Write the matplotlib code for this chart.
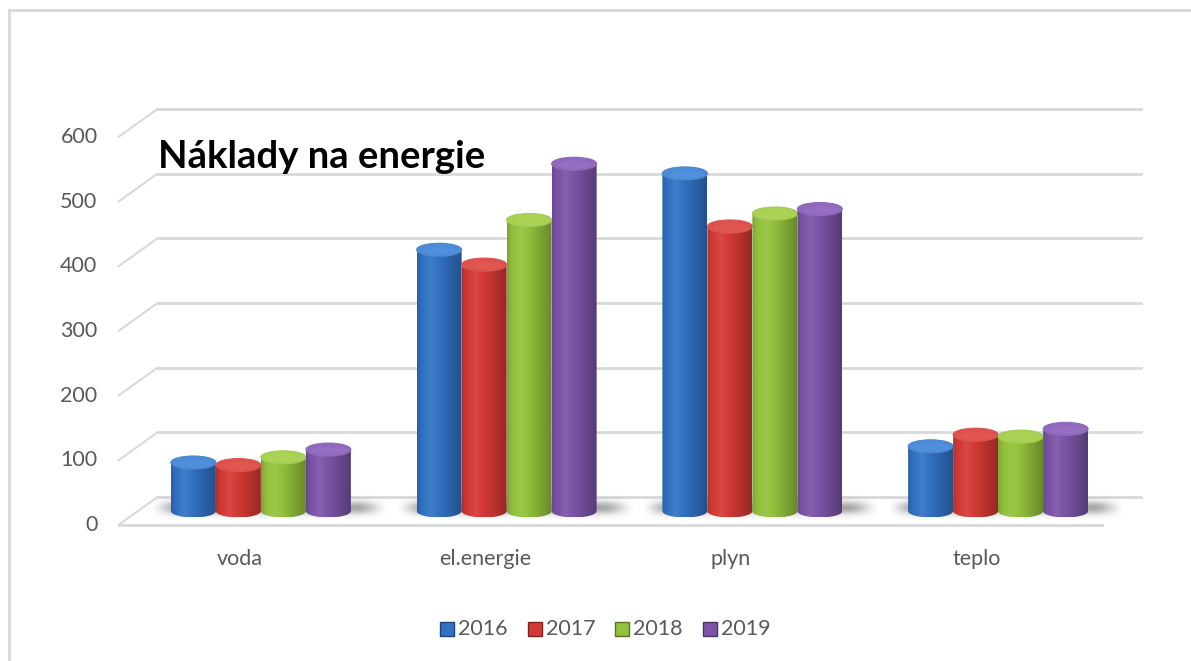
import numpy as np
import matplotlib
matplotlib.use("Agg")
import matplotlib.pyplot as plt
from matplotlib.patches import Polygon, Ellipse, Rectangle
from matplotlib.lines import Line2D
from matplotlib.transforms import ScaledTranslation
from matplotlib.colors import to_rgb

# ---------------- data ----------------
categories = ["voda", "el.energie", "plyn", "teplo"]
years = ["2016", "2017", "2018", "2019"]
v2016 = [75, 404, 522, 100]
v2017 = [71, 381, 440, 118]
v2018 = [83, 450, 460, 115]
v2019 = [95, 537, 467, 127]
series = [v2016, v2017, v2018, v2019]
yticks = [0, 100, 200, 300, 400, 500, 600]
title = "Náklady na energie"
colors = ["#3272C4", "#D43A35", "#93C23C", "#7B54A8"]
top_colors = ["#4A8CDA", "#E0504A", "#A8D250", "#9168BF"]

W, H, DPI = 1191, 661, 100
fig = plt.figure(figsize=(W / DPI, H / DPI), dpi=DPI)
fig.patch.set_facecolor("white")
plt.rcParams["font.family"] = ["Lato", "DejaVu Sans"]

x0_px, x1_px = 138, 1121
ybase_px, ppu = 511, 0.6467
ylo, yhi = -40, 640
ax = fig.add_axes([x0_px / W, (H - ybase_px + ylo * ppu) / H,
                   (x1_px - x0_px) / W, (yhi - ylo) * ppu / H])
ax.set_xlim(-0.5, 3.5)
ax.set_ylim(ylo, yhi)
ax.axis("off")

px = 1.0 / DPI
back = ax.transData + ScaledTranslation(19.5 * px, 14 * px, fig.dpi_scale_trans)
front = ax.transData + ScaledTranslation(-19.5 * px, -14 * px, fig.dpi_scale_trans)

grid_c = "#D9D9D9"
txt_c = "#595959"
for v in yticks:
    ax.plot([-0.5, 3.5], [v, v], color=grid_c, lw=2, transform=back, clip_on=False, zorder=1)
    ax.annotate("", xy=(-0.5, v), xycoords=back, xytext=(-0.5, v), textcoords=front,
                arrowprops=dict(arrowstyle="-", color=grid_c, lw=1.5, shrinkA=0, shrinkB=0),
                zorder=1)
    ax.text(-0.5, v, str(v), transform=front + ScaledTranslation(-21 * px, 0, fig.dpi_scale_trans),
            ha="right", va="center", fontsize=15.5, color=txt_c)
ax.plot([-0.5, 3.5], [0, 0], color=grid_c, lw=2, transform=front, clip_on=False, zorder=1)

for i, c in enumerate(categories):
    ax.text(i, 0, c, transform=front + ScaledTranslation(-2 * px, -34 * px, fig.dpi_scale_trans),
            ha="center", va="center", fontsize=15.5, color=txt_c)

bw = 45 / ((x1_px - x0_px) / 4)
eh = 13 / ppu


def shade(rgb, f):
    rgb = np.array(rgb)
    if f >= 1:
        return rgb + (1 - rgb) * (f - 1)
    return rgb * f


def cylinder(xc, h, col, tcol, z):
    rgb = to_rgb(col)
    xl, xr = xc - bw / 2, xc + bw / 2
    t1 = np.linspace(np.pi, 2 * np.pi, 40)
    t2 = np.linspace(0, np.pi, 40)
    pts = [(xl, h)]
    pts += [(xc + bw / 2 * np.cos(t), eh / 2 * np.sin(t)) for t in t1]
    pts += [(xr, h)]
    pts += [(xc + bw / 2 * np.cos(t), h + eh / 2 * np.sin(t)) for t in t2]
    poly = Polygon(pts, closed=True, facecolor="none", edgecolor="none", zorder=z)
    ax.add_patch(poly)
    u = np.linspace(0, 1, 60)
    f = np.interp(u, [0, 0.08, 0.3, 0.6, 0.9, 1.0], [0.84, 0.96, 1.08, 0.93, 0.77, 0.7])
    grad = np.array([shade(rgb, fi) for fi in f])[None, :, :]
    im = ax.imshow(grad, extent=[xl, xr, -eh / 2, h + eh / 2], aspect="auto",
                   interpolation="bilinear", zorder=z)
    im.set_clip_path(poly)
    ax.add_patch(Ellipse((xc, h), bw, eh, facecolor=tcol, edgecolor=shade(rgb, 1.15),
                         lw=0.8, zorder=z + 0.1))
    ax.add_patch(Ellipse((xc + bw * 0.03, h - eh * 0.08), bw * 0.8, eh * 0.6,
                         facecolor=shade(to_rgb(tcol), 1.06), edgecolor="none",
                         alpha=0.6, zorder=z + 0.2))


def smooth(t):
    t = np.clip(t, 0, 1)
    return t * t * (3 - 2 * t)


n = len(series)
offs = (np.arange(n) - (n - 1) / 2) * bw
# soft floor shadow image (gray with alpha)
sx0, sx1 = -2 * bw - 0.09, 2 * bw + 0.16
sy0, sy1 = -14, 26
gx = np.linspace(sx0, sx1, 200)
gy = np.linspace(sy0, sy1, 60)
ax_prof = smooth((gx - sx0) / 0.12) * smooth((sx1 - gx) / 0.14)
ay_prof = np.exp(-((gy - 5) / 10.0) ** 2)
alpha = (ay_prof[::-1, None] * ax_prof[None, :]) * 0.6
shadow_rgba = np.zeros((len(gy), len(gx), 4))
shadow_rgba[..., :3] = 0.42
shadow_rgba[..., 3] = alpha
for i in range(len(categories)):
    ax.imshow(shadow_rgba, extent=[i + sx0, i + sx1, sy0, sy1], aspect="auto",
              interpolation="bilinear", zorder=2)
    for s in range(n):
        cylinder(i + offs[s], series[s][i], colors[s], top_colors[s], 3 + s)

fig.text(158 / W, 1 - 157 / H, title, fontsize=27.5, fontweight="bold", color="black",
         ha="left", va="center")

lx = [447, 535, 622, 710]
for s in range(n):
    fig.patches.append(Rectangle(((lx[s] - 7) / W, 1 - 636 / H), 14 / W, 14 / H,
                                 transform=fig.transFigure, facecolor=colors[s],
                                 edgecolor=shade(to_rgb(colors[s]), 0.6), lw=1))
    fig.text((lx[s] + 11) / W, 1 - 629 / H, years[s], fontsize=15.5, color=txt_c,
             ha="left", va="center")

fig.add_artist(Line2D([9 / W, 9 / W], [0, 1 - 10 / H], color="#D9D9D9",
                      lw=2, transform=fig.transFigure))
fig.add_artist(Line2D([9 / W, 1], [1 - 10 / H, 1 - 10 / H], color="#D9D9D9",
                      lw=2, transform=fig.transFigure))

fig.savefig("out.png", dpi=DPI)
